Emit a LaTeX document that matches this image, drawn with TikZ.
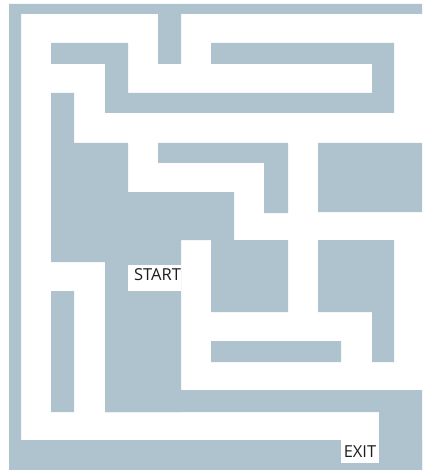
\documentclass[tikz,border=0pt]{standalone}
\usepackage{fontspec}
\setmainfont{Open Sans}
\definecolor{mazegray}{RGB}{175,195,207}
\definecolor{labelink}{RGB}{30,30,30}
\tikzset{
  wall/.style={fill=mazegray, draw=none},
  labelbox/.style={fill=white, draw=none},
  mazelabel/.style={inner sep=0pt, anchor=base, text=labelink, font=\fontsize{16.5}{18}\selectfont}
}
\begin{document}
\begin{tikzpicture}[x=1pt,y=-1pt]
\useasboundingbox (0,0) rectangle (422,470);
\fill[white] (0,0) rectangle (422,470);
% outer bands
\path[wall]
  (9,4) rectangle (422,14)
  (9,4) rectangle (21,470)
  (9,440) rectangle (422,470);
% top area
\path[wall]
  (158,14) rectangle (181,64)
  (51,43) rectangle (128,64)
  (105,43) rectangle (128,113)
  (105,93) rectangle (394,113)
  (211,43) rectangle (394,64)
  (372,43) rectangle (394,113)
  (51,93) rectangle (74,143);
% central block
\path[wall]
  (51,143) rectangle (128,262)
  (158,143) rectangle (288,163)
  (264,143) rectangle (288,213)
  (128,192) rectangle (234,240)
  (128,240) rectangle (181,262)
  (105,240) rectangle (181,412)
  (211,240) rectangle (288,312);
% right side
\path[wall]
  (318,143) rectangle (422,212)
  (318,240) rectangle (394,312)
  (372,312) rectangle (394,362)
  (211,341) rectangle (341,362);
% lower part
\path[wall]
  (51,291) rectangle (74,412)
  (105,390) rectangle (422,412)
  (379,390) rectangle (422,470);
% label boxes
\path[labelbox] (128,265) rectangle (181,291);
\path[labelbox] (341,440) rectangle (379,463);
\node[mazelabel] (start) at (157.5,280) {START};
\node[mazelabel] (exit) at (360,457) {EXIT};
\end{tikzpicture}
\end{document}
